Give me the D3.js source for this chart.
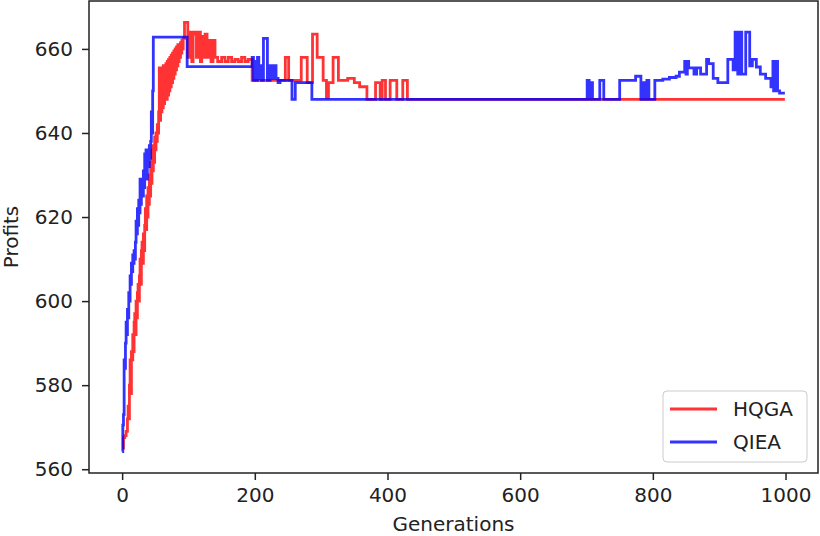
<!DOCTYPE html>
<html>
<head>
<meta charset="utf-8">
<title>HQGA vs QIEA</title>
<script src="https://cdn.jsdelivr.net/npm/d3@7"></script>
<style>
body { margin: 0; background: #fff; font-family: "DejaVu Sans", sans-serif; }
svg { display: block; }
.axis text { font-size: 20px; fill: #222; font-family: "DejaVu Sans", sans-serif; }
.axis path, .axis line { stroke: #222; stroke-width: 1.5; }
</style>
</head>
<body>
<svg width="820" height="536"></svg>
<script>
// breakpoints [generation, profit], drawn as steps
var hqga = [
  [0,565],[2,567.5],[4,568],[6,569],[8,572],[9,575],[10,572],[11,580],[12,586],[13,578],
  [14,588],[15,586],[16,592],[17,588],[18,595],[19,597],[20,592],[21,600],[22,596],[23,602],
  [24,604],[25,600],[26,606],[27,610],[28,604],[29,612],[30,614],[31,609],[32,616],[33,612],
  [34,618],[35,622],[36,617],[37,625],[38,620],[39,627],[40,623],[41,630],[42,625],[43,633],
  [44,628],[45,636],[46,631],[47,637],[48,633],[49,639],[50,636],[51,640],[52,638],[53,642],
  [54,640],[55,645],[56,655.5],[57,643],[58,655],[59,645],[60,655.5],[61,646],[62,656],[63,647],
  [64,656],[65,648],[66,656.5],[67,648],[68,657],[69,649],[70,657.5],[71,650],[72,658],[73,651],
  [74,658.5],[75,652],[76,659],[77,653],[78,659.5],[79,654],[80,660],[81,655],[82,660.5],[83,656],
  [84,661],[85,657],[86,661],[87,658],[88,661.5],[89,659],[90,662],[91,660],[92,662.5],
  [94,666.3],[99,658],[102,664],[105,657],[107,664],[110,663.5],[112,658],[114,664],[118,657],
  [120,663],[123,658],[125,663.5],[128,658],[130,662],[134,657],[137,662],[140,658],[144,657],
  [150,658],[155,657],[160,658],[165,657],[170,657.5],[175,657],[180,658],[185,657],[190,657.5],
  [196,652.5],[246,658],[251,652.5],[270,658],[279,652],[287,663.5],[294,658],[303,652.5],
  [308,648.5],[311,652],[318,658],[326,652.5],[340,653],[350,652],[358,651],[369,648],
  [382,652],[389,648],[392,652.5],[397,648],[404,652.5],[414,648],[423,652.5],[430,648],[999,648]
];
var qiea = [
  [0,564.2],[1,570.5],[2,573],[3,586],[4,584],[5,590],[6,595],[7,592],[8,598],[9,596],
  [10,602],[11,600],[12,606],[13,604],[14,609],[15,607],[16,611],[17,609],[18,612],[19,610],
  [20,614],[21,619],[22,616],[23,622],[24,618],[25,624],[26,621],[27,629],[28,623],[29,625],
  [30,628],[31,625],[32,631],[33,627],[34,635],[35,630],[36,636],[37,629],[38,634],[39,636],
  [40,632],[41,637],[42,634],[43,638],[44,645],[45,640],[46,650],[47,662.8],[98,655.8],
  [196,658],[198,652.5],[200,657],[202,652.5],[204,658],[206,653],[208,656],[210,652.5],
  [213,662.5],[219,652.5],[223,656],[226,653],[229,656],[232,653],[235,652],[238,652.5],
  [256,648],[261,652],[286,648],[701,652.5],[704,648],[706,652],[709,648],[720,652.5],[726,648],
  [750,652.5],[774,653.5],[782,648],[785,652],[788,648],[791,652.5],[794,648],[803,652.5],
  [815,652.8],[825,653.2],[835,653.5],[840,654.5],[848,657],[850,654],[852,657],[854,655.5],
  [862,654],[866,655.5],[872,654],[881,657.5],[884,656.5],[891,653],[898,652],[913,657.5],
  [921,655],[924,664],[928,654],[931,664],[934,654],[940,664],[946,656],[950,657.5],[956,655.7],
  [962,654],[970,653],[978,651],[981,657],[982,650],[984,657],[985,650],[987,657],[988,650],
  [991,649.5],[999,649.5]
];
var seriesNames = ["HQGA", "QIEA"];
var seriesColors = ["#ff0000", "#0000ff"];
var xTicks = [0, 200, 400, 600, 800, 1000];
var yTicks = [560, 580, 600, 620, 640, 660];

var svg = d3.select("svg");
var mLeft = 89, mRight = 818, mTop = 1, mBottom = 473;

var x = d3.scaleLinear().domain([-49.95, 1048.95]).range([mLeft, mRight]);
var y = d3.scaleLinear().domain([559.1, 671.4]).range([mBottom, mTop]);

var line = d3.line()
  .x(function (d) { return x(d[0]); })
  .y(function (d) { return y(d[1]); })
  .curve(d3.curveStepAfter);

var plot = svg.append("g");
[hqga, qiea].forEach(function (s, i) {
  plot.append("path")
    .attr("d", line(s))
    .attr("fill", "none")
    .attr("stroke", seriesColors[i])
    .attr("stroke-opacity", 0.8)
    .attr("stroke-width", 2.8)
    .attr("stroke-linejoin", "miter");
});

// frame
svg.append("rect")
  .attr("x", mLeft).attr("y", mTop)
  .attr("width", mRight - mLeft).attr("height", mBottom - mTop)
  .attr("fill", "none").attr("stroke", "#222").attr("stroke-width", 1.5);

svg.append("g").attr("class", "axis")
  .attr("transform", "translate(0," + mBottom + ")")
  .call(d3.axisBottom(x).tickValues(xTicks).tickSize(7).tickPadding(8).tickFormat(d3.format("d")))
  .call(function (g) { g.select(".domain").remove(); });

svg.append("g").attr("class", "axis")
  .attr("transform", "translate(" + mLeft + ",0)")
  .call(d3.axisLeft(y).tickValues(yTicks).tickSize(7).tickPadding(9).tickFormat(d3.format("d")))
  .call(function (g) { g.select(".domain").remove(); });

svg.append("text")
  .attr("x", (mLeft + mRight) / 2).attr("y", 531)
  .attr("text-anchor", "middle")
  .style("font-size", "20px").style("fill", "#222")
  .text("Generations");

svg.append("text")
  .attr("transform", "translate(18," + ((mTop + mBottom) / 2) + ") rotate(-90)")
  .attr("text-anchor", "middle")
  .style("font-size", "20px").style("fill", "#222")
  .text("Profits");

// legend
var lg = svg.append("g").attr("transform", "translate(663,391)");
lg.append("rect")
  .attr("width", 144).attr("height", 71).attr("rx", 4)
  .attr("fill", "#fff").attr("fill-opacity", 0.8)
  .attr("stroke", "#ccc").attr("stroke-width", 1);
seriesNames.forEach(function (n, i) {
  var ly = 18 + i * 33;
  lg.append("line")
    .attr("x1", 7).attr("x2", 54).attr("y1", ly).attr("y2", ly)
    .attr("stroke", seriesColors[i]).attr("stroke-opacity", 0.8).attr("stroke-width", 2.8);
  lg.append("text")
    .attr("x", 70).attr("y", ly + 7)
    .style("font-size", "20px").style("fill", "#222")
    .text(n);
});
</script>
</body>
</html>
